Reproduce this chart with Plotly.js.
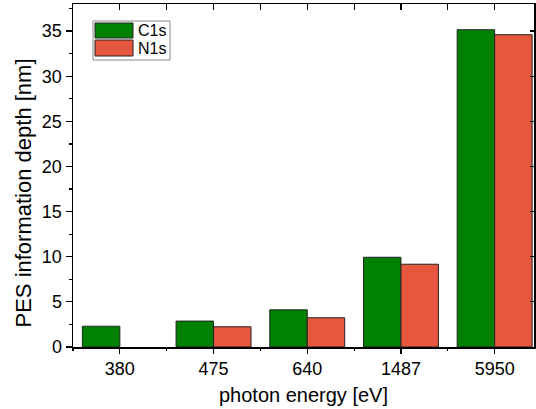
<!DOCTYPE html>
<html>
<head>
<meta charset="utf-8">
<script src="https://cdn.plot.ly/plotly-3.0.1.min.js"></script>
<style>
  html, body { margin: 0; padding: 0; background: #ffffff; }
  #chart { width: 536px; height: 409px; }
</style>
</head>
<body>
<div id="chart"></div>
<script>
// Photon energies (eV) used as categories
const energies = ['380', '475', '640', '1487', '5950'];
// Information depth (nm) per core level
const c1sDepth = [2.3, 2.87, 4.12, 9.94, 35.15];
const n1sDepth = [null, 2.24, 3.24, 9.17, 34.6];
const seriesNames = ['C1s', 'N1s'];
const seriesColors = ['#008000', '#E6573E'];
const yTicks = [0, 5, 10, 15, 20, 25, 30, 35];
const xTitle = 'photon energy [eV]';
const yTitle = 'PES information depth [nm]';

const W = 536, H = 409;
const M = { l: 73, r: 2, t: 4, b: 62 };
const plotW = W - M.l - M.r, plotH = H - M.t - M.b;
// pixel -> paper helpers for the hand-placed legend box and y title
const px = x => (x - M.l) / plotW;
const py = y => (H - M.b - y) / plotH;

const FONT = 'Liberation Sans, Arial, sans-serif';
const xRange = [-0.5, 4.42];
const yRange = [0, 38];

const barLine = { color: '#222222', width: 1 };

const traces = [
  { type: 'bar', name: seriesNames[0], x: energies, y: c1sDepth,
    marker: { color: seriesColors[0], line: barLine }, showlegend: false, hoverinfo: 'x+y' },
  { type: 'bar', name: seriesNames[1], x: energies, y: n1sDepth,
    marker: { color: seriesColors[1], line: barLine }, showlegend: false, hoverinfo: 'x+y' },
  // carriers for the mirrored tick axes
  { type: 'scatter', x: [], y: [], xaxis: 'x2', yaxis: 'y2', showlegend: false, hoverinfo: 'skip' },
  { type: 'scatter', x: [], y: [], xaxis: 'x3', yaxis: 'y', showlegend: false, hoverinfo: 'skip' }
];

const legendSwatches = [
  { y0: 23, y1: 38 },
  { y0: 40, y1: 56 }
];

const shapes = [
  { type: 'rect', xref: 'paper', yref: 'paper', x0: px(93), x1: px(170), y0: py(60), y1: py(21),
    line: { color: '#888888', width: 1 }, fillcolor: '#ffffff', layer: 'above' }
];
const annotations = [
  // y-axis title, set a little below the axis centre
  { xref: 'paper', yref: 'paper', x: px(23.5), y: py(193), xanchor: 'center', yanchor: 'middle',
    textangle: -90, showarrow: false, text: yTitle,
    font: { family: FONT, size: 22, color: '#000000' } }
];
seriesNames.forEach((name, i) => {
  const s = legendSwatches[i];
  shapes.push({ type: 'rect', xref: 'paper', yref: 'paper', x0: px(95), x1: px(133),
    y0: py(s.y1), y1: py(s.y0), fillcolor: seriesColors[i],
    line: { color: '#222222', width: 1 }, layer: 'above' });
  annotations.push({ xref: 'paper', yref: 'paper', x: px(136), y: py((s.y0 + s.y1) / 2),
    xanchor: 'left', yanchor: 'middle', showarrow: false, text: name,
    font: { family: FONT, size: 16, color: '#000000' } });
});

const layout = {
  width: W, height: H,
  margin: M,
  paper_bgcolor: '#ffffff', plot_bgcolor: '#ffffff',
  barmode: 'group', bargap: 0.2, bargroupgap: 0,
  font: { family: FONT, color: '#000000' },
  xaxis: {
    type: 'category', range: xRange,
    showline: true, mirror: true, linecolor: '#000000', linewidth: 1.5,
    showgrid: false, zeroline: false,
    ticks: 'outside', ticklen: 5, tickwidth: 1.2, tickcolor: '#000000',
    tickfont: { family: FONT, size: 18, color: '#000000' },
    title: { text: xTitle, font: { family: FONT, size: 20, color: '#000000' }, standoff: 10 }
  },
  xaxis2: {
    type: 'linear', overlaying: 'x', side: 'top', anchor: 'y2', range: xRange,
    showline: false, showgrid: false, zeroline: false, showticklabels: false,
    tickmode: 'linear', tick0: 0, dtick: 1,
    ticks: 'inside', ticklen: 6, tickwidth: 1.2, tickcolor: '#000000',
    minor: { tickmode: 'linear', tick0: 0.5, dtick: 1, ticks: 'inside', ticklen: 6, tickwidth: 1.2, tickcolor: '#000000' }
  },
  xaxis3: {
    type: 'linear', overlaying: 'x', side: 'bottom', anchor: 'y', range: xRange,
    showline: false, showgrid: false, zeroline: false, showticklabels: false,
    tickmode: 'linear', tick0: 0.5, dtick: 1,
    ticks: 'outside', ticklen: 3, tickwidth: 1.2, tickcolor: '#000000'
  },
  yaxis: {
    range: yRange,
    showline: true, mirror: true, linecolor: '#000000', linewidth: 1.5,
    showgrid: false, zeroline: false,
    tickmode: 'array', tickvals: yTicks,
    ticks: 'outside', ticklen: 6, tickwidth: 1.2, tickcolor: '#000000',
    minor: { tickmode: 'linear', tick0: 2.5, dtick: 5, ticks: 'outside', ticklen: 3, tickwidth: 1.2, tickcolor: '#000000' },
    tickfont: { family: FONT, size: 18, color: '#000000' }
  },
  yaxis2: {
    overlaying: 'y', side: 'right', anchor: 'x', range: yRange,
    showline: false, showgrid: false, zeroline: false, showticklabels: false,
    tickmode: 'array', tickvals: yTicks,
    ticks: 'inside', ticklen: 4, tickwidth: 1.2, tickcolor: '#000000'
  },
  shapes: shapes,
  annotations: annotations
};

Plotly.newPlot('chart', traces, layout, { displayModeBar: false, staticPlot: true });
</script>
</body>
</html>
